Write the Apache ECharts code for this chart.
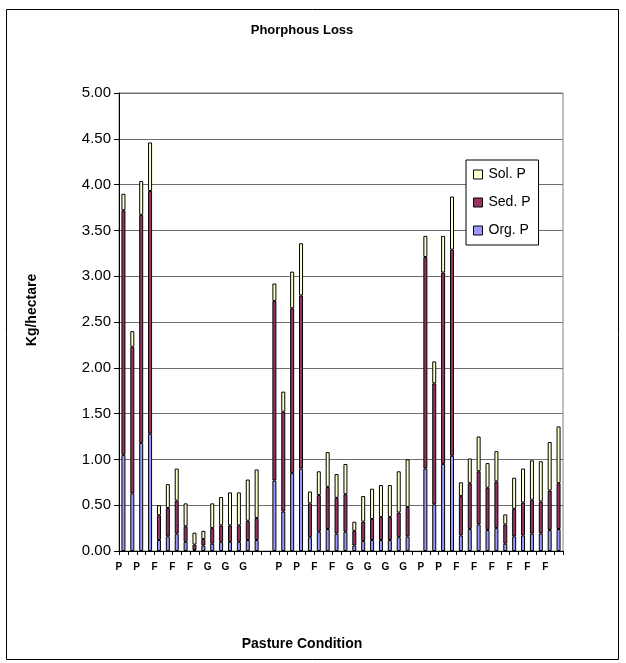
<!DOCTYPE html>
<html>
<head>
<meta charset="utf-8">
<script src="https://cdn.jsdelivr.net/npm/echarts@6/dist/echarts.min.js"></script>
<style>
  html, body { margin: 0; padding: 0; background: #ffffff; }
  #chart { width: 626px; height: 663px; }
</style>
</head>
<body>
<div id="chart"></div>
<script>
// Pasture condition of each plot (P = poor, F = fair, G = good); '' marks the spacer between sites
const categories = [
  'P','P','P','P','F','F','F','F','F','F','G','G','G','G','G','G', '',
  'P','P','P','P','F','F','F','F','G','G','G','G','G','G','G','G', '',
  'P','P','P','P','F','F','F','F','F','F','F','F','F','F','F','F'
];

// Phosphorus loss components, kg/hectare
const orgP = [
  1.05, 0.63, 1.18, 1.28, 0.12, 0.16, 0.19, 0.10, 0.01, 0.06, 0.08, 0.10, 0.10, 0.10, 0.12, 0.12, null,
  0.77, 0.43, 0.85, 0.90, 0.15, 0.21, 0.24, 0.19, 0.21, 0.06, 0.11, 0.12, 0.12, 0.12, 0.15, 0.16, null,
  0.90, 0.51, 0.95, 1.04, 0.17, 0.24, 0.29, 0.23, 0.25, 0.08, 0.16, 0.17, 0.19, 0.19, 0.23, 0.24
];
const sedP = [
  2.67, 1.60, 2.49, 2.65, 0.27, 0.31, 0.36, 0.17, 0.06, 0.07, 0.17, 0.18, 0.18, 0.18, 0.21, 0.24, null,
  1.96, 1.09, 1.80, 1.89, 0.37, 0.40, 0.46, 0.39, 0.41, 0.16, 0.21, 0.23, 0.25, 0.25, 0.27, 0.32, null,
  2.31, 1.32, 2.09, 2.25, 0.43, 0.50, 0.58, 0.46, 0.51, 0.21, 0.30, 0.36, 0.37, 0.35, 0.43, 0.50
];
const solP = [
  0.18, 0.17, 0.37, 0.53, 0.11, 0.26, 0.35, 0.25, 0.13, 0.09, 0.27, 0.31, 0.36, 0.36, 0.45, 0.53, null,
  0.19, 0.22, 0.40, 0.57, 0.13, 0.26, 0.38, 0.26, 0.33, 0.10, 0.28, 0.33, 0.35, 0.35, 0.45, 0.52, null,
  0.23, 0.24, 0.40, 0.58, 0.15, 0.27, 0.38, 0.27, 0.33, 0.11, 0.34, 0.37, 0.43, 0.44, 0.53, 0.62
];

const seriesNames = ['Org. P', 'Sed. P', 'Sol. P'];
const legendOrder = ['Sol. P', 'Sed. P', 'Org. P'];
const yMin = 0, yMax = 5, yStep = 0.5;

const colors = { 'Org. P': '#9999FF', 'Sed. P': '#993366', 'Sol. P': '#FFFFCC' };
const FONT = '"Liberation Sans", Arial, sans-serif';

const chart = echarts.init(document.getElementById('chart'), null, { renderer: 'canvas' });

function barSeries(name, values) {
  return {
    name: name,
    type: 'bar',
    stack: 'phos',
    data: values,
    barWidth: 4,
    itemStyle: { color: colors[name], borderColor: '#000000', borderWidth: 1 },
    emphasis: { disabled: true },
    animation: false
  };
}

chart.setOption({
  animation: false,
  backgroundColor: '#ffffff',
  grid: {
    left: 119, right: 63, top: 93, bottom: 112,
    show: true, borderColor: '#808080', borderWidth: 1
  },
  graphic: [
    {
      type: 'rect', silent: true, z: -10,
      shape: { x: 6.5, y: 9.5, width: 612, height: 650 },
      style: { fill: '#ffffff', stroke: '#000000', lineWidth: 1 }
    },
    {
      type: 'text', silent: true, x: 302, y: 30,
      style: { text: 'Phorphous Loss', font: 'bold 13px ' + FONT, fill: '#000', textAlign: 'center', textVerticalAlign: 'middle' }
    },
    {
      type: 'text', silent: true, x: 302, y: 644,
      style: { text: 'Pasture Condition', font: 'bold 14px ' + FONT, fill: '#000', textAlign: 'center', textVerticalAlign: 'middle' }
    },
    {
      type: 'text', silent: true, x: 32, y: 310, rotation: Math.PI / 2,
      style: { text: 'Kg/hectare', font: 'bold 14px ' + FONT, fill: '#000', textAlign: 'center', textVerticalAlign: 'middle' }
    }
  ],
  legend: {
    data: legendOrder,
    orient: 'vertical',
    left: 466, top: 160,
    padding: [7, 8, 7, 7],
    itemGap: 13,
    itemWidth: 9, itemHeight: 9,
    icon: 'rect',
    borderColor: '#000000', borderWidth: 1,
    backgroundColor: '#ffffff',
    itemStyle: { borderColor: '#000000', borderWidth: 1 },
    textStyle: { fontFamily: FONT, fontSize: 14, color: '#000', lineHeight: 15, padding: [0, 0, 0, 1] },
    selectedMode: false
  },
  xAxis: {
    type: 'category',
    data: categories,
    boundaryGap: true,
    axisLine: { lineStyle: { color: '#000000', width: 1 } },
    axisTick: { show: true, interval: 0, length: 4, lineStyle: { color: '#000000' } },
    axisLabel: {
      interval: 1,
      margin: 11,
      fontFamily: FONT, fontSize: 10, fontWeight: 'bold', color: '#000',
      padding: [0, 9, 0, 0]
    },
    splitLine: { show: false }
  },
  yAxis: {
    type: 'value',
    min: yMin, max: yMax, interval: yStep,
    axisLine: { show: true, lineStyle: { color: '#000000', width: 1 } },
    axisTick: { show: true, inside: false, length: 5, lineStyle: { color: '#000000' } },
    axisLabel: {
      margin: 8,
      fontFamily: FONT, fontSize: 15, color: '#000',
      formatter: function (v) { return v.toFixed(2); }
    },
    splitLine: { show: true, lineStyle: { color: '#6e6e6e', width: 1 } }
  },
  series: [
    barSeries(seriesNames[0], orgP),
    barSeries(seriesNames[1], sedP),
    barSeries(seriesNames[2], solP)
  ]
});
</script>
</body>
</html>
